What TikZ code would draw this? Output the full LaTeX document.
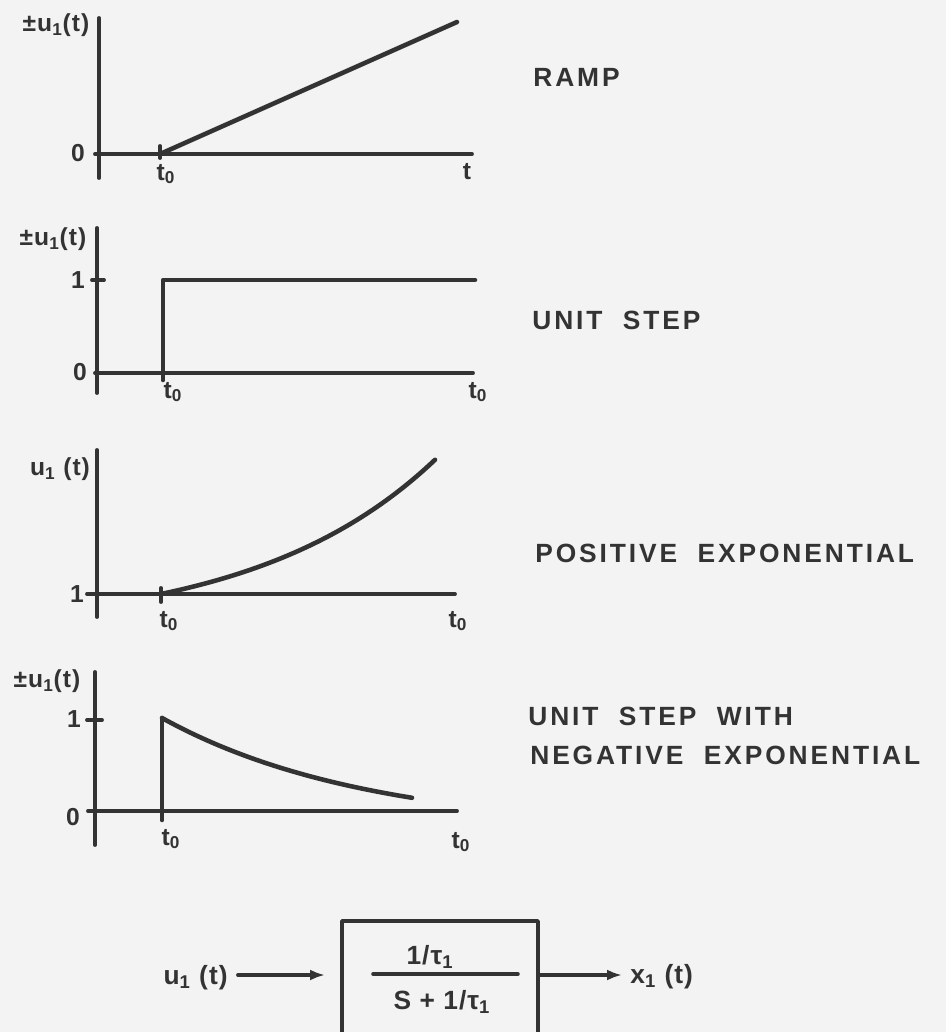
\documentclass[tikz,border=0pt]{standalone}
\usepackage{fontspec}
\usetikzlibrary{arrows.meta}
\setmainfont{Liberation Sans}
\newfontfamily\labfont{Liberation Sans}[LetterSpace=4]
\newfontfamily\widefont{Liberation Sans}[LetterSpace=11,WordSpace=2]
\definecolor{bg}{HTML}{F3F3F3}
\definecolor{ink}{HTML}{333333}
\begin{document}
\begin{tikzpicture}[x=0.02cm,y=-0.02cm,line cap=round,line join=round,
  ax/.style={draw=ink,line width=2.2pt},
  crv/.style={draw=ink,line width=2.6pt},
  lbl/.style={text=ink,font=\labfont\fontsize{14}{16}\selectfont\bfseries,inner sep=0pt},
  blk/.style={text=ink,font=\labfont\fontsize{15}{18}\selectfont\bfseries,inner sep=0pt},
  ttl/.style={text=ink,font=\widefont\fontsize{15}{18}\selectfont\bfseries,inner sep=0pt,anchor=west},
  arr/.style={draw=ink,line width=2.2pt,-{Latex[length=3mm,width=2.2mm]}}]
\useasboundingbox (0,0) rectangle (946,1032);
\fill[bg] (0,0) rectangle (946,1032);
\clip (0,0) rectangle (946,1032);

% ---------- plot 1: ramp ----------
\draw[ax] (99,18) -- (99,178);
\draw[ax] (95,154) -- (472,154);
\draw[ax] (160,146) -- (160,158);
\draw[crv] (160,154) -- (457,22);
\node[lbl] (p1y) at (56,25) {±u\textsubscript{1}(t)};
\node[lbl] (p1z) at (78,153) {0};
\node[lbl] (p1a) at (166,174) {t\textsubscript{0}};
\node[lbl] (p1b) at (467,172) {t};
\node[ttl] (p1n) at (533,77) {RAMP};

% ---------- plot 2: unit step ----------
\draw[ax] (97,228) -- (97,393);
\draw[ax] (92,280) -- (104,280);
\draw[ax] (95,373) -- (473,373);
\draw[crv] (163,380) -- (163,280) -- (475,280);
\node[lbl] (p2y) at (53,239) {±u\textsubscript{1}(t)};
\node[lbl] (p2o) at (78,280) {1};
\node[lbl] (p2z) at (80,372) {0};
\node[lbl] (p2a) at (173,392) {t\textsubscript{0}};
\node[lbl] (p2b) at (478,392) {t\textsubscript{0}};
\node[ttl] (p2n) at (532,320) {UNIT STEP};

% ---------- plot 3: positive exponential ----------
\draw[ax] (97,450) -- (97,617);
\draw[ax] (87,594) -- (455,594);
\draw[ax] (161,588) -- (161,602);
\draw[crv] plot[domain=161:435,samples=50] (\x,{594-38.3*(exp(0.0055*(\x-161))-1)});
\node[lbl] (p3y) at (60,469) {u\textsubscript{1} (t)};
\node[lbl] (p3o) at (77,594) {1};
\node[lbl] (p3a) at (169,621) {t\textsubscript{0}};
\node[lbl] (p3b) at (458,621) {t\textsubscript{0}};
\node[ttl] (p3n) at (535,553) {POSITIVE EXPONENTIAL};

% ---------- plot 4: unit step with negative exponential ----------
\draw[ax] (95,672) -- (95,845);
\draw[ax] (87,720) -- (102,720);
\draw[ax] (88,811) -- (457,811);
\draw[crv] (162,820) -- (162,718);
\draw[crv] plot[domain=162:412,samples=50] (\x,{811-(113*exp(-0.0049*(\x-162))-20)});
\node[lbl] (p4y) at (47,681) {±u\textsubscript{1}(t)};
\node[lbl] (p4o) at (74,719) {1};
\node[lbl] (p4z) at (73,817) {0};
\node[lbl] (p4a) at (171,839) {t\textsubscript{0}};
\node[lbl] (p4b) at (461,842) {t\textsubscript{0}};
\node[ttl] (p4n) at (528,716) {UNIT STEP WITH};
\node[ttl] (p4m) at (530,755) {NEGATIVE EXPONENTIAL};

% ---------- block diagram ----------
\node[draw=ink,line width=2.2pt,minimum width=3.92cm,minimum height=2.8cm,inner sep=0pt] (box) at (440,991) {};
\node[blk] (num) at (430,957) {1/τ\textsubscript{1}};
\node[blk] (den) at (442,1002) {S + 1/τ\textsubscript{1}};
\draw[draw=ink,line width=2pt] (373,974) -- (518,974);
\node[blk,anchor=east] (uin) at (228,978) {u\textsubscript{1} (t)};
\node[blk,anchor=west] (xout) at (630,977) {x\textsubscript{1} (t)};
\coordinate (ina) at (238,975);
\coordinate (inb) at (325,975);
\coordinate (outb) at (622,975);
\draw[arr] (ina) -- (inb);
\draw[arr] (outb -| box.east) -- (outb);
\end{tikzpicture}
\end{document}
